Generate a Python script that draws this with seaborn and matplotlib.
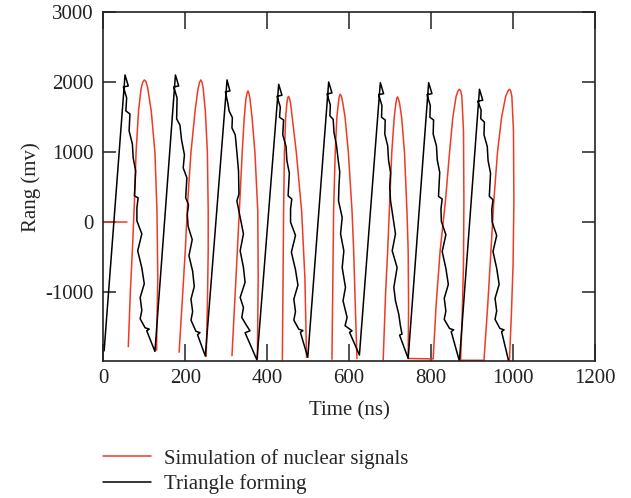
import matplotlib
matplotlib.use("Agg")
import matplotlib.pyplot as plt
import numpy as np
import pandas as pd
import seaborn as sns

# ---------------- data ----------------
series_names = ["Simulation of nuclear signals", "Triangle forming"]
series_colors = ["#EE3B24", "#000000"]

# red signal: separate segments (ns, mV)
red_s0_t = [0, 57]
red_s0_v = [0, 0]
red_s1_t = [61, 66, 72, 76, 80, 86, 92, 96, 100, 104, 108, 117, 126, 131, 133, 131, 130]
red_s1_v = [-1780, -1000, -270, 300, 1000, 1590, 1900, 1995, 2033, 2010, 1930, 1590, 1000, 159, -800, -1400, -1830]
red_s2_t = [185, 194, 200, 206, 214, 224, 231, 235, 238, 241, 244, 249, 254, 256, 256, 254, 251]
red_s2_v = [-1860, -1000, -410, 300, 1000, 1590, 1900, 2000, 2033, 2000, 1900, 1590, 1000, 159, -410, -1200, -1920]
red_s3_t = [314, 322, 332, 339, 344, 348, 351, 353, 355, 358, 363, 370, 377, 378, 376]
red_s3_v = [-1910, -1000, 159, 1000, 1500, 1760, 1850, 1876, 1850, 1760, 1500, 1000, 159, -800, -1953]
red_s4_t = [437, 440, 442, 445, 448, 450, 452, 454, 457, 463, 471, 484, 492, 496]
red_s4_v = [-1975, 159, 1000, 1500, 1700, 1775, 1797, 1775, 1700, 1400, 1000, 159, -800, -1934]
red_s5_t = [558, 561, 562, 566, 570, 574, 576, 578, 581, 584, 590, 598, 607, 611, 615, 619]
red_s5_v = [-1960, -410, 159, 1000, 1500, 1720, 1800, 1828, 1800, 1720, 1500, 1000, 159, -410, -1200, -1950]
red_s6_t = [683, 689, 694, 698, 704, 710, 714, 716, 718, 720, 723, 728, 735, 741, 744, 745, 744,
            805, 812, 822, 835, 845, 853, 861, 866, 869, 872, 875, 879, 880, 879, 876, 872,
            929, 938, 946, 953, 962, 972, 982, 988, 991, 994, 997, 1001, 1002, 1000, 996, 991]
red_s6_v = [-1975, -1000, -410, 159, 1000, 1500, 1700, 1765, 1790, 1765, 1700, 1500, 1000, 159, -410, -1200, -1949,
            -1955, -1200, -410, 304, 1000, 1500, 1800, 1880, 1900, 1880, 1800, 1300, 304, -600, -1300, -1975,
            -1975, -1200, -410, 304, 1000, 1500, 1800, 1880, 1900, 1880, 1800, 1300, 304, -600, -1300, -1990]

# black triangle forming: start point then 8 cycles (peak -> noisy fall -> minimum)
black_start_t = [2]
black_start_v = [-1840]
black_c1_t = [53, 61, 49, 57, 55, 65, 63, 71, 73, 79, 76, 85, 82, 82, 94, 84, 94, 100, 90, 94, 90, 102, 112, 106, 126]
black_c1_v = [2104, 1947, 1933, 1776, 1590, 1547, 1304, 1117, 917, 733, 376, 347, 204, 19, -167, -410, -653, -881, -1077, -1261, -1382, -1510, -1529, -1553, -1848]
black_c2_t = [176, 184, 172, 180, 179, 187, 191, 198, 195, 204, 201, 208, 205, 207, 217, 209, 218, 222, 214, 218, 214, 226, 236, 230, 249]
black_c2_v = [2104, 1947, 1933, 1776, 1476, 1390, 1176, 962, 776, 633, 347, 252, 109, -60, -250, -480, -700, -920, -1100, -1280, -1400, -1560, -1580, -1610, -1914]
black_c3_t = [302, 309, 298, 304, 307, 315, 314, 322, 326, 330, 331, 326, 334, 342, 334, 342, 346, 334, 342, 338, 350, 358, 346, 375]
black_c3_v = [2033, 1876, 1862, 1700, 1590, 1494, 1347, 1247, 1000, 733, 400, 304, 66, -167, -410, -649, -860, -1077, -1220, -1363, -1481, -1553, -1581, -1971]
black_c4_t = [428, 436, 424, 432, 430, 440, 438, 446, 448, 454, 451, 460, 457, 457, 469, 459, 469, 475, 465, 469, 465, 477, 487, 481, 499]
black_c4_v = [1971, 1814, 1800, 1643, 1500, 1460, 1250, 1080, 880, 700, 376, 330, 190, 0, -190, -430, -680, -900, -1100, -1280, -1400, -1530, -1550, -1575, -1933]
black_c5_t = [550, 558, 546, 554, 553, 561, 563, 569, 573, 577, 575, 574, 583, 579, 587, 583, 591, 585, 595, 590, 607, 601, 625]
black_c5_v = [2004, 1847, 1833, 1676, 1520, 1470, 1280, 1100, 900, 720, 500, 304, 66, -167, -410, -649, -934, -1124, -1363, -1480, -1553, -1575, -1900]
black_c6_t = [676, 684, 672, 680, 679, 688, 687, 694, 696, 701, 699, 701, 713, 705, 717, 709, 713, 721, 725, 729, 723, 744]
black_c6_v = [1994, 1837, 1823, 1666, 1500, 1460, 1260, 1090, 890, 710, 500, 304, -167, -410, -649, -934, -1124, -1315, -1481, -1600, -1615, -1949]
black_c7_t = [794, 802, 790, 798, 797, 806, 805, 813, 815, 821, 818, 827, 824, 825, 836, 827, 836, 842, 832, 836, 832, 845, 855, 849, 869]
black_c7_v = [1994, 1837, 1823, 1666, 1500, 1460, 1260, 1090, 890, 710, 370, 330, 190, 10, -180, -420, -660, -890, -1090, -1270, -1390, -1520, -1540, -1565, -1985]
black_c8_t = [918, 926, 914, 922, 921, 930, 929, 937, 939, 945, 942, 951, 948, 949, 960, 951, 960, 966, 956, 960, 956, 968, 978, 972, 991]
black_c8_v = [1900, 1743, 1729, 1600, 1480, 1430, 1250, 1080, 880, 700, 370, 320, 180, 0, -190, -420, -660, -890, -1090, -1270, -1390, -1520, -1540, -1565, -2030]

x_ticks = [0, 200, 400, 600, 800, 1000, 1200]
y_ticks = [-1000, 0, 1000, 2000, 3000]

# ---------------- assemble long table ----------------
rows = []
red_segments = [(red_s0_t, red_s0_v), (red_s1_t, red_s1_v), (red_s2_t, red_s2_v), (red_s3_t, red_s3_v),
                (red_s4_t, red_s4_v), (red_s5_t, red_s5_v), (red_s6_t, red_s6_v)]
for k, (ts, vs) in enumerate(red_segments):
    for t, v in zip(ts, vs):
        rows.append((t, v, series_names[0], f"r{k}"))
black_parts = [(black_start_t, black_start_v), (black_c1_t, black_c1_v), (black_c2_t, black_c2_v),
               (black_c3_t, black_c3_v), (black_c4_t, black_c4_v), (black_c5_t, black_c5_v),
               (black_c6_t, black_c6_v), (black_c7_t, black_c7_v), (black_c8_t, black_c8_v)]
for ts, vs in black_parts:
    for t, v in zip(ts, vs):
        rows.append((t, v, series_names[1], "b0"))
df = pd.DataFrame(rows, columns=["t", "v", "series", "seg"])

# ---------------- plot ----------------
sns.set_style("ticks")
plt.rcParams["font.family"] = ["Liberation Serif", "DejaVu Serif"]
plt.rcParams["axes.unicode_minus"] = False

fig = plt.figure(figsize=(6.31, 4.98), dpi=100)
ax = fig.add_axes([0.1637, 0.2751, 0.7793, 0.7002])

sns.lineplot(data=df, x="t", y="v", hue="series", units="seg", estimator=None, sort=False,
             hue_order=series_names, palette=dict(zip(series_names, series_colors)),
             linewidth=1.1, ax=ax)

ax.set_xlim(0, 1200)
ax.set_ylim(-1985, 3000)
ax.set_xticks(x_ticks)
ax.set_yticks(y_ticks)
ax.set_xlabel("Time (ns)", fontsize=15, labelpad=9)
ax.set_ylabel("Rang (mv)", fontsize=15, labelpad=3)
ax.tick_params(axis="x", direction="in", length=12, width=1.1, top=True, labelsize=15, pad=6, colors="#222222")
ax.tick_params(axis="y", direction="in", length=9.5, width=1.1, right=True, labelsize=15, pad=7, colors="#222222")
for s in ax.spines.values():
    s.set_visible(True)
    s.set_linewidth(1.2)
    s.set_color("#222222")

leg = ax.get_legend()
handles = leg.legend_handles
labels = [t.get_text() for t in leg.get_texts()]
leg.remove()
fig.legend(handles, labels, loc="upper left", bbox_to_anchor=(0.163, 0.099), frameon=False,
           fontsize=15, handlelength=2.3, handletextpad=0.64, labelspacing=0.28,
           borderpad=0, borderaxespad=0)

fig.savefig("out.png", dpi=100)
